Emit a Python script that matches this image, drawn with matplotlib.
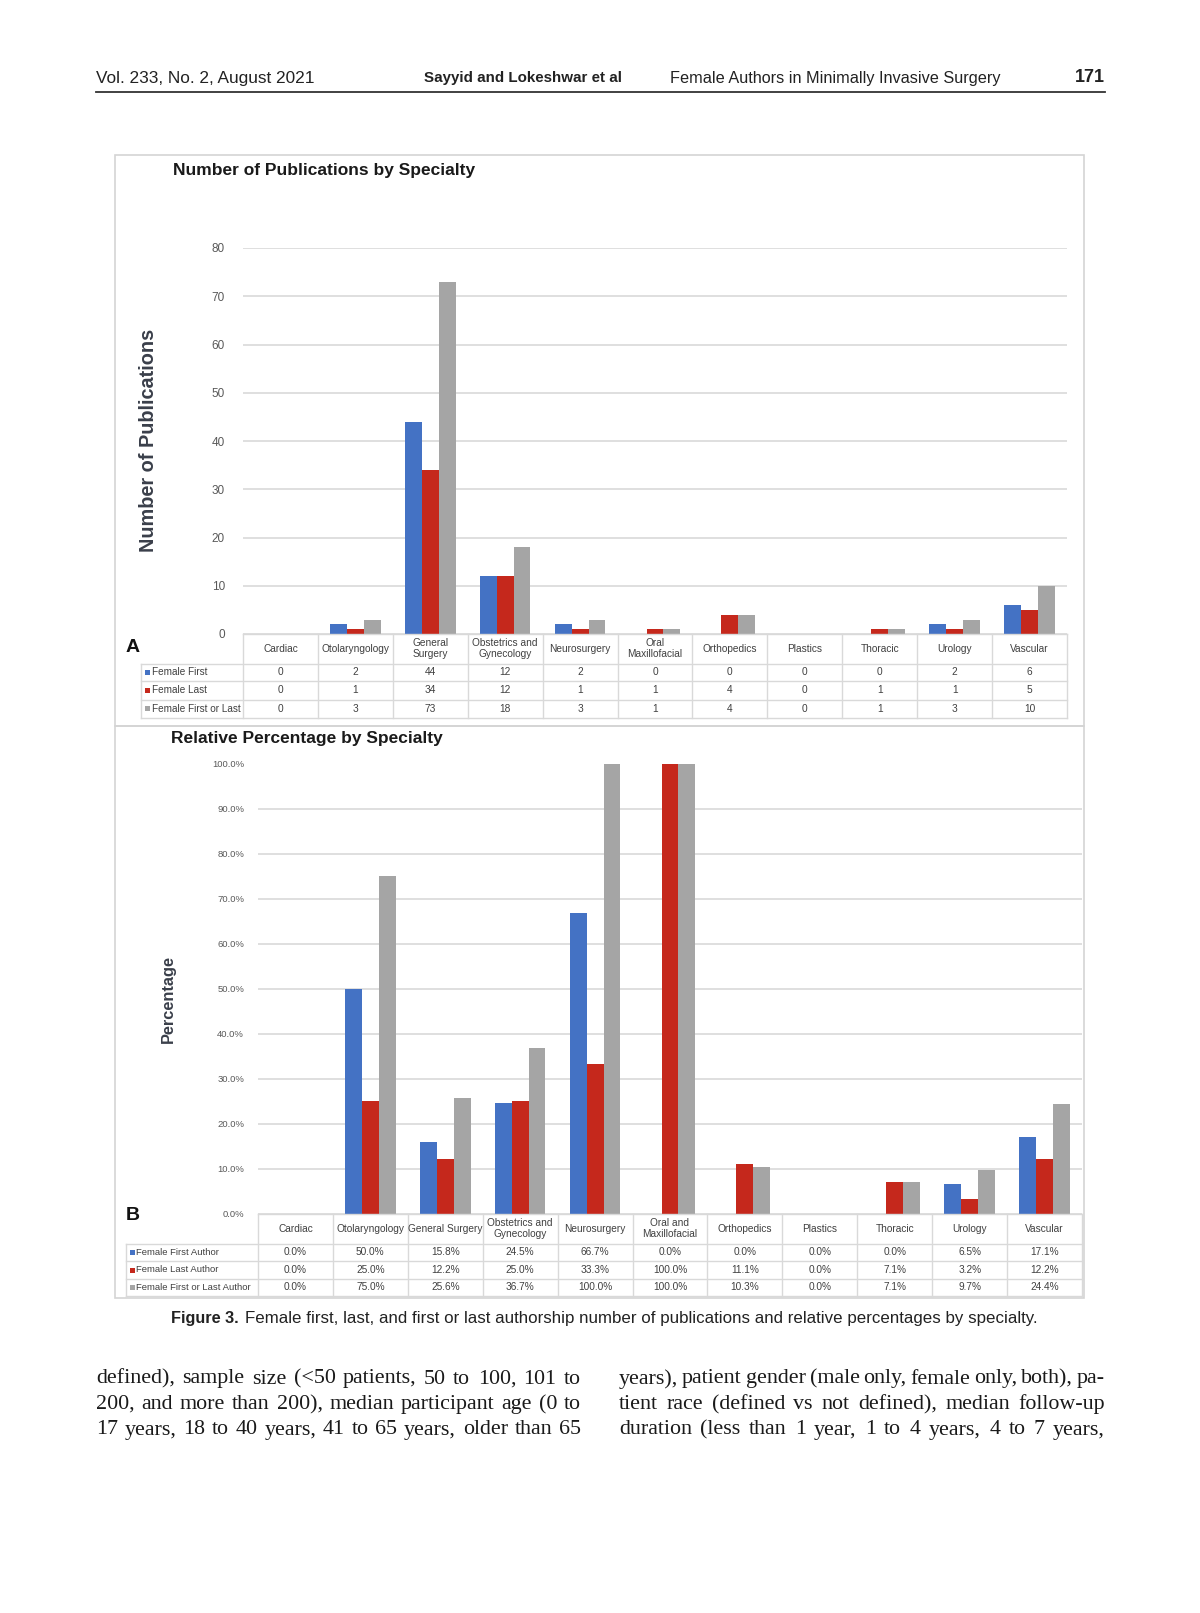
import numpy as np
import matplotlib.pyplot as plt
from matplotlib.lines import Line2D
from matplotlib.patches import Rectangle

# panel A: number of publications
categories_a = ['Cardiac', 'Otolaryngology', 'General\nSurgery', 'Obstetrics and\nGynecology',
                'Neurosurgery', 'Oral\nMaxillofacial', 'Orthopedics', 'Plastics', 'Thoracic',
                'Urology', 'Vascular']
series_a = ['Female First', 'Female Last', 'Female First or Last']
first_a = [0, 2, 44, 12, 2, 0, 0, 0, 0, 2, 6]
last_a = [0, 1, 34, 12, 1, 1, 4, 0, 1, 1, 5]
either_a = [0, 3, 73, 18, 3, 1, 4, 0, 1, 3, 10]
yticks_a = [0, 10, 20, 30, 40, 50, 60, 70, 80]

# panel B: relative percentage
categories_b = ['Cardiac', 'Otolaryngology', 'General Surgery', 'Obstetrics and\nGynecology',
                'Neurosurgery', 'Oral and\nMaxillofacial', 'Orthopedics', 'Plastics', 'Thoracic',
                'Urology', 'Vascular']
series_b = ['Female First Author', 'Female Last Author', 'Female First or Last Author']
first_b = [0.0, 50.0, 15.8, 24.5, 66.7, 0.0, 0.0, 0.0, 0.0, 6.5, 17.1]
last_b = [0.0, 25.0, 12.2, 25.0, 33.3, 100.0, 11.1, 0.0, 7.1, 3.2, 12.2]
either_b = [0.0, 75.0, 25.6, 36.7, 100.0, 100.0, 10.3, 0.0, 7.1, 9.7, 24.4]
yticks_b = [0, 10, 20, 30, 40, 50, 60, 70, 80, 90, 100]

header_left = 'Vol. 233, No. 2, August 2021'
header_auth = 'Sayyid and Lokeshwar et al'
header_title = 'Female Authors in Minimally Invasive Surgery'
header_page = '171'
caption_bold = 'Figure 3.'
caption_text = 'Female first, last, and first or last authorship number of publications and relative percentages by specialty.'
body_left = ['defined), sample size (<50 patients, 50 to 100, 101 to',
             '200, and more than 200), median participant age (0 to',
             '17 years, 18 to 40 years, 41 to 65 years, older than 65']
body_right = ['years), patient gender (male only, female only, both), pa-',
              'tient race (defined vs not defined), median follow-up',
              'duration (less than 1 year, 1 to 4 years, 4 to 7 years,']

COLORS = ['#4472C4', '#C5281C', '#A5A5A5']
GRID = '#D9D9D9'
NARROW = ['Liberation Sans Narrow', 'Liberation Sans', 'DejaVu Sans']
SANS = ['Liberation Sans', 'DejaVu Sans']
SERIF = ['Liberation Serif', 'DejaVu Serif']

W, H = 1200, 1613
fig = plt.figure(figsize=(W / 100, H / 100), dpi=100)
fig.patch.set_facecolor('white')
renderer = fig.canvas.get_renderer()


def fx(x):
    return x / W


def fy(y):
    return 1 - y / H


def text(x, y, s, **kw):
    return fig.text(fx(x), fy(y), s, **kw)


def fit(t, length):
    bb = t.get_window_extent(renderer)
    size = bb.height if t.get_rotation() == 90 else bb.width
    t.set_fontsize(t.get_fontsize() * length / size)
    return t


def line(xs, ys, color=GRID, lw=1.0):
    fig.add_artist(Line2D([fx(x) for x in xs], [fy(y) for y in ys], color=color, lw=lw))


def draw_panel(frame, plot, cats, vals, names, yticks, fmt, tick_size, tick_pad,
               rows, label_left, cell_fmt, label_size):
    x0, y0, x1, y1 = frame
    fig.add_artist(Rectangle((fx(x0), fy(y1)), (x1 - x0) / W, (y1 - y0) / H,
                             fill=False, edgecolor='#D4D4D4', lw=1.2))
    px0, py0, px1, py1 = plot
    ax = fig.add_axes([fx(px0), fy(py1), (px1 - px0) / W, (py1 - py0) / H])
    n = len(cats)
    x = np.arange(n)
    w = 0.225
    for k, (v, c) in enumerate(zip(vals, COLORS)):
        ax.bar(x + (k - 1) * w, v, w, color=c, zorder=3)
    ax.set_xlim(-0.5, n - 0.5)
    ax.set_ylim(0, yticks[-1])
    ax.set_yticks(yticks)
    ax.set_yticklabels([fmt(t) for t in yticks], family=NARROW, fontsize=tick_size, color='#595959')
    ax.set_xticks([])
    ax.tick_params(length=0, pad=tick_pad)
    ax.grid(axis='y', color=GRID, lw=1.2, zorder=0)
    for s in ax.spines.values():
        s.set_visible(False)
    ax.set_facecolor('none')

    # data table below the chart
    bx = [ax.transData.transform((i - 0.5, 0))[0] for i in range(n + 1)]
    line([bx[0], bx[-1]], [rows[0], rows[0]])
    for r in rows[1:]:
        line([label_left, bx[-1]], [r, r])
    for xb in bx:
        line([xb, xb], [rows[0], rows[-1]])
    line([label_left, label_left], [rows[1], rows[-1]])
    for i, c in enumerate(cats):
        cx = (bx[i] + bx[i + 1]) / 2
        text(cx, (rows[0] + rows[1]) / 2, c, ha='center', va='center', family=NARROW,
             fontsize=7.3, color='#404040', linespacing=1.1)
        for k, v in enumerate(vals):
            text(cx, (rows[k + 1] + rows[k + 2]) / 2, cell_fmt(v[i]), ha='center', va='center',
                 family=NARROW, fontsize=7.3, color='#404040')
    for k, name in enumerate(names):
        yc = (rows[k + 1] + rows[k + 2]) / 2
        fig.add_artist(Rectangle((fx(label_left + 4), fy(yc + 2.5)), 5 / W, 5 / H,
                                 color=COLORS[k], lw=0))
        text(label_left + 11, yc, name, ha='left', va='center', family=NARROW,
             fontsize=label_size, color='#404040')
    return ax


# panel A
draw_panel((115, 155, 1084, 726), (243, 248, 1067, 634), categories_a,
           [first_a, last_a, either_a], series_a, yticks_a, lambda t: f'{t}', 8.5, 13,
           [634, 663.5, 681, 699.5, 718], 141, lambda v: f'{v}', 7.2)
fit(text(173, 170, 'Number of Publications by Specialty', ha='left', va='center',
         family=SANS, fontsize=12, fontweight='bold', color='#1a1a1a'), 299)
fit(text(149, 440, 'Number of Publications', ha='center', va='center', rotation=90,
         family=SANS, fontsize=13, fontweight='bold', color='#3a3f4a'), 223)
text(133, 647, 'A', ha='center', va='center', family=SANS, fontsize=14,
     fontweight='bold', color='#111111')

# panel B
draw_panel((115, 726, 1084, 1298), (258, 763.5, 1082, 1213.5), categories_b,
           [first_b, last_b, either_b], series_b, yticks_b, lambda t: f'{t:.1f}%', 6.8, 10,
           [1213.5, 1243.5, 1261, 1279, 1296], 125.5, lambda v: f'{v:.1f}%', 6.8)
fit(text(171, 739, 'Relative Percentage by Specialty', ha='left', va='center',
         family=SANS, fontsize=12, fontweight='bold', color='#1a1a1a'), 270)
fit(text(168, 999, 'Percentage', ha='center', va='center', rotation=90,
         family=SANS, fontsize=11, fontweight='bold', color='#3a3f4a'), 88)
text(133, 1215, 'B', ha='center', va='center', family=SANS, fontsize=14,
     fontweight='bold', color='#111111')

# running header
fit(text(96, 78, header_left, ha='left', va='center', family=NARROW, fontsize=12,
         color='#222222'), 219)
fit(text(424, 78, header_auth, ha='left', va='center', family=NARROW, fontsize=12,
         fontweight='bold', color='#222222'), 197)
fit(text(670, 78, header_title, ha='left', va='center', family=NARROW, fontsize=12,
         color='#222222'), 330)
fit(text(1105, 78, header_page, ha='right', va='center', family=NARROW, fontsize=12,
         fontweight='bold', color='#222222'), 30)
line([96, 1105], [91.5, 91.5], color='#333333', lw=1.3)

# caption
cb = fit(text(171, 1318, caption_bold, ha='left', va='center', family=NARROW, fontsize=11,
              fontweight='bold', color='#222222'), 68)
cw = cb.get_window_extent(renderer).width
fit(text(171 + cw + 6, 1318, caption_text, ha='left', va='center', family=NARROW,
         fontsize=11, color='#222222'), 1028 - 171 - cw - 6)


# justified body text
def justify(s, x0, x1, y):
    words = s.split(' ')
    ts = [text(x0, y, wd, ha='left', va='center', family=SERIF, fontsize=15.8,
               color='#1a1a1a') for wd in words]
    widths = [t.get_window_extent(renderer).width for t in ts]
    gap = (x1 - x0 - sum(widths)) / (len(words) - 1)
    xp = x0
    for t, wd in zip(ts, widths):
        t.set_x(fx(xp))
        xp += wd + gap


for i, (l, r) in enumerate(zip(body_left, body_right)):
    y = 1379 + i * 25.5
    justify(l, 96, 581, y)
    justify(r, 619, 1105, y)

fig.savefig('out.png', dpi=100, facecolor='white')
